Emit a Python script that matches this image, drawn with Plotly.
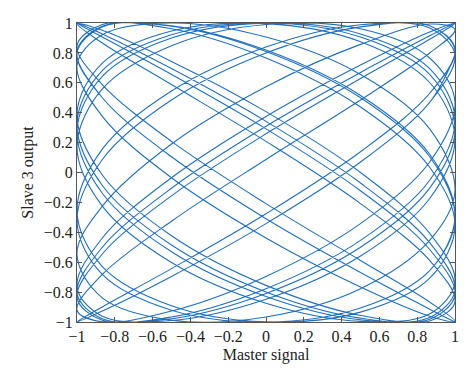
import plotly.graph_objects as go

# Master signal over five periods (repeats in every block)
master_cycle = [1, 0.866, 0.5, 0, -0.5, -0.866, -1, -0.866, -0.5, 0, 0.5, 0.866,
                1, 0.866, 0.5, 0, -0.5, -0.866, -1, -0.866, -0.5, 0, 0.5, 0.866,
                1, 0.866, 0.5, 0, -0.5, -0.866, -1, -0.866, -0.5, 0, 0.5, 0.866,
                1, 0.866, 0.5, 0, -0.5, -0.866, -1, -0.866, -0.5, 0, 0.5, 0.866,
                1, 0.866, 0.5, 0, -0.5, -0.866, -1, -0.866, -0.5, 0, 0.5, 0.866]

# Slave 3 output, block by block (the phase relation drifts slowly)
slave_block1 = [1.0, 0.914, 0.669, 0.309, -0.105, -0.5,
                -0.809, -0.978, -0.978, -0.809, -0.5, -0.105,
                0.292, 0.656, 0.906, 1.0, 0.921, 0.682,
                0.326, -0.087, -0.485, -0.799, -0.974, -0.982,
                -0.819, -0.515, -0.122, 0.292, 0.656, 0.906,
                0.999, 0.927, 0.695, 0.342, -0.070, -0.469,
                -0.788, -0.970, -0.985, -0.829, -0.530, -0.139,
                0.276, 0.643, 0.899, 0.999, 0.927, 0.695,
                0.358, -0.052, -0.454, -0.777, -0.966, -0.988,
                -0.839, -0.545, -0.156, 0.259, 0.629, 0.891]
slave_block2 = [0.998, 0.940, 0.719, 0.375, -0.035, -0.438,
                -0.766, -0.961, -0.990, -0.848, -0.559, -0.174,
                0.225, 0.602, 0.875, 0.996, 0.946, 0.731,
                0.391, -0.017, -0.423, -0.755, -0.956, -0.993,
                -0.866, -0.588, -0.208, 0.208, 0.588, 0.866,
                0.995, 0.951, 0.743, 0.407, 0.0, -0.407,
                -0.731, -0.946, -0.996, -0.875, -0.602, -0.225,
                0.174, 0.559, 0.848, 0.990, 0.961, 0.766,
                0.469, 0.070, -0.342, -0.695, -0.927, -0.999,
                -0.921, -0.682, -0.326, 0.087, 0.485, 0.799]
slave_block3 = [0.956, 0.993, 0.857, 0.574, 0.191, -0.225,
                -0.545, -0.839, -0.988, -0.966, -0.777, -0.454,
                -0.122, 0.292, 0.656, 0.906, 1.0, 0.921,
                0.719, 0.375, -0.035, -0.438, -0.766, -0.961,
                -0.995, -0.866, -0.588, -0.208, 0.208, 0.588,
                0.848, 0.990, 0.961, 0.766, 0.438, 0.035,
                -0.358, -0.707, -0.934, -0.999, -0.891, -0.629,
                -0.259, 0.156, 0.545, 0.839, 0.988, 0.966,
                0.788, 0.469, 0.070, -0.342, -0.695, -0.927,
                -0.999, -0.899, -0.643, -0.276, 0.139, 0.530]
slave_block4 = [0.819, 0.982, 0.974, 0.799, 0.485, 0.087,
                -0.326, -0.682, -0.921, -1.0, -0.906, -0.656,
                -0.309, 0.105, 0.5, 0.809, 0.978, 0.978,
                0.809, 0.5, 0.105, -0.309, -0.669, -0.914,
                -1.0, -0.914, -0.669, -0.309, 0.105, 0.5,
                0.799, 0.974, 0.982, 0.819, 0.515, 0.122,
                -0.292, -0.656, -0.906, -1.0, -0.921, -0.682,
                -0.326, 0.087, 0.485, 0.799, 0.974, 0.982,
                0.829, 0.530, 0.139, -0.276, -0.643, -0.899,
                -0.999, -0.927, -0.695, -0.342, 0.070, 0.469]
master_end = [1]
slave_end = [0.788]

tick_vals = [-1, -0.8, -0.6, -0.4, -0.2, 0, 0.2, 0.4, 0.6, 0.8, 1]
tick_text = ["\u22121", "\u22120.8", "\u22120.6", "\u22120.4", "\u22120.2", "0",
             "0.2", "0.4", "0.6", "0.8", "1"]

master = []
slave = []
for block in [slave_block1, slave_block2, slave_block3, slave_block4]:
    master += master_cycle
    slave += block
master += master_end
slave += slave_end

fig = go.Figure()
fig.add_trace(go.Scatter(
    x=master, y=slave, mode="lines",
    line=dict(color="#2170bf", width=1.1, shape="spline", smoothing=1.0),
    hoverinfo="skip", showlegend=False,
))

font_family = "Liberation Serif, DejaVu Serif, serif"
axis_common = dict(
    range=[-1, 1], tickvals=tick_vals, ticktext=tick_text,
    ticks="inside", ticklen=5, tickcolor="#555555", tickwidth=1,
    showline=True, linecolor="#555555", linewidth=1, mirror="ticks",
    showgrid=False, zeroline=False, automargin=False,
    tickfont=dict(family=font_family, size=16, color="#222222"),
)

# the page adds an 8 px body margin, so the figure is a little smaller
fig.update_layout(
    width=466, height=374,
    margin=dict(l=69, r=19, t=15, b=60),
    paper_bgcolor="white", plot_bgcolor="white",
    xaxis=dict(**axis_common,
               title=dict(text="Master signal", standoff=4,
                          font=dict(family=font_family, size=16, color="#222222"))),
    yaxis=dict(**axis_common,
               title=dict(text="Slave 3 output", standoff=6,
                          font=dict(family=font_family, size=16, color="#222222"))),
)

fig.write_html("out.html")
